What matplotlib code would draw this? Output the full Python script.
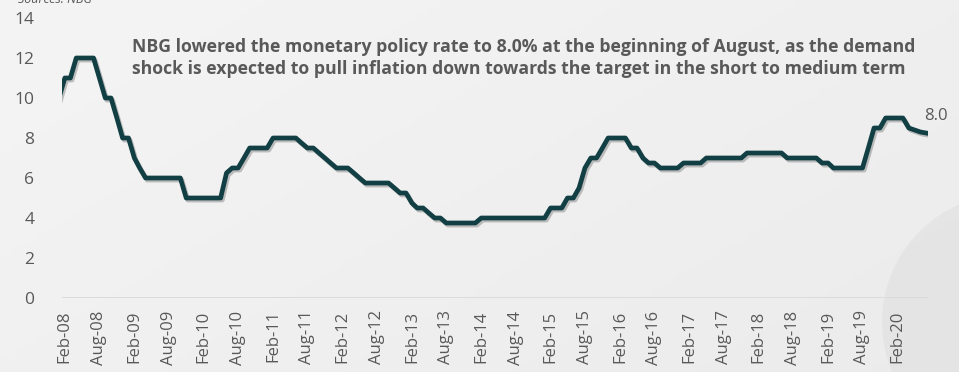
import matplotlib
matplotlib.use('Agg')
import matplotlib.pyplot as plt
import matplotlib.dates as mdates
import matplotlib.patheffects as pe
from matplotlib.patches import Circle
import numpy as np
import pandas as pd

plt.rcParams['font.family'] = ['Open Sans', 'DejaVu Sans']

# monthly policy rate, Jan-08 .. Jul-20
dates = pd.date_range('2008-01-01', '2020-07-01', freq='MS')
rate = [
    10, 11, 11, 12, 12, 12, 12, 11, 10, 10, 9, 8,                       # 2008
    8, 7, 6.5, 6, 6, 6, 6, 6, 6, 6, 5, 5,                               # 2009
    5, 5, 5, 5, 5, 6.25, 6.5, 6.5, 7, 7.5, 7.5, 7.5,                    # 2010
    7.5, 8, 8, 8, 8, 8, 7.75, 7.5, 7.5, 7.25, 7, 6.75,                  # 2011
    6.5, 6.5, 6.5, 6.25, 6, 5.75, 5.75, 5.75, 5.75, 5.75, 5.5, 5.25,    # 2012
    5.25, 4.75, 4.5, 4.5, 4.25, 4, 4, 3.75, 3.75, 3.75, 3.75, 3.75,     # 2013
    3.75, 4, 4, 4, 4, 4, 4, 4, 4, 4, 4, 4,                              # 2014
    4, 4.5, 4.5, 4.5, 5, 5, 5.5, 6.5, 7, 7, 7.5, 8,                     # 2015
    8, 8, 8, 7.5, 7.5, 7, 6.75, 6.75, 6.5, 6.5, 6.5, 6.5,               # 2016
    6.75, 6.75, 6.75, 6.75, 7, 7, 7, 7, 7, 7, 7, 7.25,                  # 2017
    7.25, 7.25, 7.25, 7.25, 7.25, 7.25, 7, 7, 7, 7, 7, 7,               # 2018
    6.75, 6.75, 6.5, 6.5, 6.5, 6.5, 6.5, 6.5, 7.5, 8.5, 8.5, 9,         # 2019
    9, 9, 9, 8.5, 8.4, 8.3, 8.25,                                       # 2020
]
last_label = '8.0'
note = ('NBG lowered the monetary policy rate to 8.0% at the beginning of August, as the demand\n'
        'shock is expected to pull inflation down towards the target in the short to medium term')

W, H = 959, 372
fig = plt.figure(figsize=(W / 100, H / 100), dpi=100)

# background: soft grey gradient + big circle bottom right
bg = fig.add_axes([0, 0, 1, 1])
gx, gy = np.meshgrid(np.linspace(0, 1, 200), np.linspace(0, 1, 80))
shade = 0.955 - 0.035 * (0.6 * gx + 0.4 * gy)
bg.imshow(shade, cmap='gray', vmin=0, vmax=1, aspect='auto', extent=[0, W, H, 0])
bg.add_patch(Circle((1010, 322), 128, color='#e0e0e1', lw=0, alpha=0.6))
bg.set_xlim(0, W)
bg.set_ylim(H, 0)
bg.axis('off')

ax = fig.add_axes([62 / W, 1 - 298 / H, (928 - 62) / W, (298 - 18) / H])
ax.patch.set_alpha(0)
for s in ax.spines.values():
    s.set_visible(False)

ax.plot(dates, rate, color='#113f44', lw=3.4, solid_joinstyle='round',
        path_effects=[pe.SimpleLineShadow(offset=(1.2, -1.5), shadow_color='#7a7a7a', alpha=0.45),
                      pe.Normal()])

ax.axhline(0, color='#d9d9d9', lw=2)
ax.set_ylim(0, 14)
ax.set_yticks(range(0, 15, 2))
ax.set_xlim(pd.Timestamp('2008-01-17'), pd.Timestamp('2020-07-11'))
ticks = pd.date_range('2008-02-01', '2020-02-01', freq='6MS')
ax.set_xticks(ticks)
ax.xaxis.set_major_formatter(mdates.DateFormatter('%b-%y'))
ax.tick_params(axis='x', rotation=90, length=0, pad=9, labelsize=12, labelcolor='#595959')
ax.tick_params(axis='y', length=0, pad=20, labelsize=12.5, labelcolor='#595959')

ax.text(dates[-1] - pd.Timedelta(days=8), 9.1, last_label, fontsize=12, color='#595959',
        ha='left', va='center', clip_on=False)

fig.text(132 / W, 1 - 38 / H, note, fontsize=12.7, fontweight='bold', color='#595959',
         ha='left', va='top', linespacing=1.25)
fig.text(18 / W, 1 - 3 / H, 'Sources: NBG', fontsize=9, style='italic', color='#595959',
         ha='left', va='baseline')

fig.savefig('out.png', dpi=100)
